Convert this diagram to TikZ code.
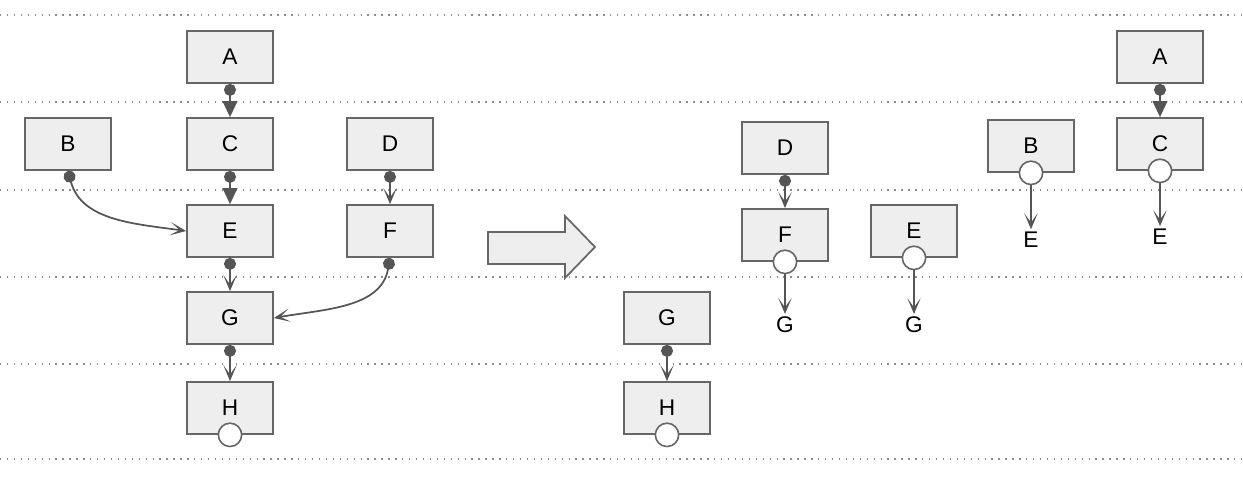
\documentclass[tikz,border=0pt]{standalone}
\usepackage{fontspec}
\setmainfont{Liberation Sans}
\usetikzlibrary{arrows.meta, positioning}

\definecolor{boxfill}{HTML}{EEEEEE}
\definecolor{boxline}{HTML}{666666}
\definecolor{linkgray}{HTML}{555555}
\definecolor{guidegray}{HTML}{8C8C8C}

\begin{document}
\begin{tikzpicture}[x=0.75pt, y=0.75pt,
    block/.style={draw=boxline, fill=boxfill, line width=1.3pt, minimum width=64.5pt, minimum height=39pt, inner sep=0pt, font=\fontsize{17}{20}\selectfont},
    port/.style={draw=boxline, fill=white, line width=1.2pt, circle, minimum size=17.5pt, inner sep=0pt},
    target/.style={inner sep=2pt, font=\fontsize{17}{20}\selectfont},
    link/.style={draw=linkgray, line width=1.3pt, {Circle[length=9pt]}-{Stealth[length=12pt, width=10pt, inset=7pt]}},
    hardlink/.style={draw=linkgray, line width=1.3pt, {Circle[length=9pt]}-{Triangle[length=12pt, width=11pt]}},
    openlink/.style={draw=linkgray, line width=1.3pt, -{Stealth[length=12pt, width=10pt, inset=7pt]}},
    guide/.style={draw=guidegray, line width=1pt, dash pattern=on 1pt off 4.2pt}
]
\useasboundingbox (0,0) rectangle (1243,-477);

% Lignes de niveau
\foreach \y in {15,102,190,277,364,459}
    \draw[guide] (0,-\y) -- (1243,-\y);

% Graphe de gauche
\node[block] (a) at (230,-57) {A};
\node[block] (c) at (230,-144) {C};
\node[block] (b) at (68,-144) {B};
\node[block] (d) at (390,-144) {D};
\node[block] (e) at (230,-231) {E};
\node[block] (f) at (390,-231) {F};
\node[block] (g) at (230,-318) {G};
\node[block] (h) at (230,-408) {H};
\node[port] (hp) at (h.south) {};

\draw[hardlink] (a.south) -- (c.north);
\draw[hardlink] (c.south) -- (e.north);
\draw[link] (d.south) -- (f.north);
\draw[link] (e.south) -- (g.north);
\draw[link] (g.south) -- (h.north);
\draw[link] (b.south) to[out=-75, in=172] (e.west);
\draw[link] (f.south) to[out=-100, in=10] (g.east);

% Fleche de transformation
\draw[draw=boxline, fill=boxfill, line width=1.3pt]
    (488,-232) -- (565,-232) -- (565,-216) -- (595,-247) -- (565,-278) -- (565,-264) -- (488,-264) -- cycle;

% Graphe de droite
\node[block] (g2) at (667,-318) {G};
\node[block] (h2) at (667,-408) {H};
\node[port] (h2p) at (h2.south) {};
\draw[link] (g2.south) -- (h2.north);

\node[block] (d2) at (785,-148) {D};
\node[block] (f2) at (785,-235) {F};
\node[port] (f2p) at (f2.south) {};
\node[target] (f2g) at (785,-325) {G};
\draw[link] (d2.south) -- (f2.north);
\draw[openlink] (f2p.south) -- (f2g.north);

\node[block] (e2) at (914,-231) {E};
\node[port] (e2p) at (e2.south) {};
\node[target] (e2g) at (914,-325) {G};
\draw[openlink] (e2p.south) -- (e2g.north);

\node[block] (b2) at (1031,-146) {B};
\node[port] (b2p) at (b2.south) {};
\node[target] (b2e) at (1031,-240) {E};
\draw[openlink] (b2p.south) -- (b2e.north);

\node[block] (a2) at (1160,-57) {A};
\node[block] (c2) at (1160,-144) {C};
\node[port] (c2p) at (c2.south) {};
\node[target] (c2e) at (1160,-237) {E};
\draw[hardlink] (a2.south) -- (c2.north);
\draw[openlink] (c2p.south) -- (c2e.north);

\end{tikzpicture}
\end{document}
